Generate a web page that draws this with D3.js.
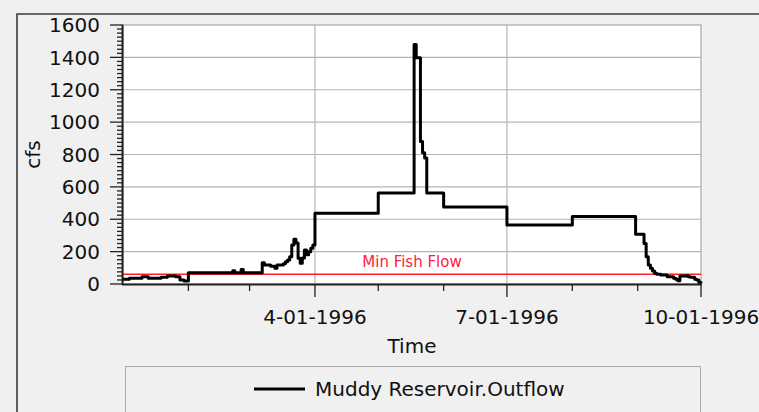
<!DOCTYPE html>
<html><head><meta charset="utf-8">
<script src="https://cdn.jsdelivr.net/npm/d3@7"></script>
<style>
html,body{margin:0;padding:0;background:#f0f0f0;}
svg{display:block;font-family:"DejaVu Sans",sans-serif;}
</style></head>
<body><svg id="c" width="759" height="412"></svg>
<script>
// ---- data ----
const dates = ["1996-01-01","1996-01-04","1996-01-10","1996-01-13","1996-01-19","1996-01-22","1996-01-26","1996-01-28","1996-01-30",
"1996-02-01","1996-02-22","1996-02-23","1996-02-26","1996-02-27",
"1996-03-07","1996-03-08","1996-03-11","1996-03-13","1996-03-14","1996-03-17","1996-03-18","1996-03-19","1996-03-20","1996-03-21",
"1996-03-22","1996-03-23","1996-03-24","1996-03-25","1996-03-26","1996-03-27","1996-03-28","1996-03-29","1996-03-30","1996-03-31",
"1996-04-01","1996-05-01","1996-05-18","1996-05-19","1996-05-21","1996-05-22","1996-05-23","1996-05-24",
"1996-06-01","1996-07-01","1996-08-01","1996-08-31",
"1996-09-04","1996-09-05","1996-09-06","1996-09-07","1996-09-08","1996-09-09","1996-09-10","1996-09-12","1996-09-15","1996-09-18",
"1996-09-19","1996-09-20","1996-09-21","1996-09-24","1996-09-25","1996-09-26","1996-09-28","1996-09-29","1996-09-30","1996-10-01"];
const outflow = [29,35,45,35,42,50,45,25,18,
70,82,70,90,70,
132,118,110,97,118,125,138,148,169,241,
277,254,159,128,161,210,180,200,221,241,
437,562,1480,1397,881,811,778,562,
475,365,417,307,
250,169,118,97,80,66,60,56,45,35,
30,20,50,51,45,41,30,25,10,4];
const minFishFlow = 60;
const yTicks = [0,200,400,600,800,1000,1200,1400,1600];
const xMajorTicks = ["1996-04-01","1996-07-01","1996-10-01"];
const xMinorTicks = ["1996-02-01","1996-03-01","1996-05-01","1996-06-01","1996-08-01","1996-09-01"];
const xTickLabels = ["4-01-1996","7-01-1996","10-01-1996"];
const seriesName = "Muddy Reservoir.Outflow";
const refLabel = "Min Fish Flow";

// ---- layout ----
const parse = s => new Date(s + "T00:00:00Z");
const L = 123, R = 701, T = 25, B = 284;
const svg = d3.select("#c");
const x = d3.scaleUtc().domain([parse("1996-01-01"), parse("1996-10-01")]).range([L, R]);
const y = d3.scaleLinear().domain([0, 1600]).range([B, T]);
const data = dates.map((d, i) => ({date: parse(d), v: outflow[i]}));

svg.append("rect").attr("width",759).attr("height",412).attr("fill","#f0f0f0");
// outer frame
svg.append("path").attr("d","M17,412 V14 H759").attr("fill","none").attr("stroke","#3a3a3a").attr("stroke-width",1.6);

// plot area
svg.append("rect").attr("x",L).attr("y",T).attr("width",R-L).attr("height",B-T)
  .attr("fill","#fff").attr("stroke","#a8a8a8").attr("stroke-width",1.2);

// grid
svg.append("g").selectAll("line").data(yTicks.filter(t => t > 0 && t < 1600)).join("line")
  .attr("x1",L).attr("x2",R).attr("y1",d=>y(d)).attr("y2",d=>y(d))
  .attr("stroke","#b4b4b4").attr("stroke-width",1.2);
svg.append("g").selectAll("line").data(xMajorTicks.slice(0,2)).join("line")
  .attr("x1",d=>x(parse(d))).attr("x2",d=>x(parse(d))).attr("y1",T).attr("y2",B)
  .attr("stroke","#b4b4b4").attr("stroke-width",1.2);

// min fish flow
svg.append("line").attr("x1",L).attr("x2",R).attr("y1",y(minFishFlow)).attr("y2",y(minFishFlow))
  .attr("stroke","#ff2020").attr("stroke-width",1.6);
svg.append("text").attr("x",(L+R)/2).attr("y",y(minFishFlow)-7).attr("text-anchor","middle")
  .attr("font-size",15).attr("fill","#ff2040").text(refLabel);

// series
const line = d3.line().x(d=>x(d.date)).y(d=>y(d.v)).curve(d3.curveStepAfter);
svg.append("path").datum(data).attr("d",line).attr("fill","none")
  .attr("stroke","#000").attr("stroke-width",3).attr("stroke-linejoin","round");

// y axis
const ga = svg.append("g");
ga.append("line").attr("x1",L-0.5).attr("x2",L-0.5).attr("y1",T).attr("y2",B+1).attr("stroke","#222").attr("stroke-width",2);
ga.selectAll(".ym").data(d3.range(0,1601,25)).join("line")
  .attr("x1",d=> d%200===0 ? L-13 : L-6).attr("x2",L).attr("y1",d=>y(d)).attr("y2",d=>y(d))
  .attr("stroke","#222").attr("stroke-width",1.3);
ga.selectAll(".yl").data(yTicks).join("text")
  .attr("x",100).attr("y",d=>y(d)).attr("dy","0.36em").attr("text-anchor","end")
  .attr("font-size",20).attr("fill","#111").text(d=>d);
svg.append("text").attr("transform",`translate(40,${(T+B)/2}) rotate(-90)`).attr("text-anchor","middle")
  .attr("font-size",20).attr("fill","#111").text("cfs");

// x axis
const gx = svg.append("g");
gx.append("line").attr("x1",L-1).attr("x2",R+1).attr("y1",B+0.5).attr("y2",B+0.5).attr("stroke","#222").attr("stroke-width",2);
gx.selectAll(".xm").data(xMinorTicks).join("line")
  .attr("x1",d=>x(parse(d))).attr("x2",d=>x(parse(d))).attr("y1",B).attr("y2",B+7)
  .attr("stroke","#222").attr("stroke-width",1.3);
gx.selectAll(".xM").data(xMajorTicks).join("line")
  .attr("x1",d=>x(parse(d))).attr("x2",d=>x(parse(d))).attr("y1",B).attr("y2",B+13)
  .attr("stroke","#222").attr("stroke-width",1.3);
gx.selectAll(".xl").data(xMajorTicks).join("text")
  .attr("x",d=>x(parse(d))).attr("y",324).attr("text-anchor","middle")
  .attr("font-size",20).attr("fill","#111").text((d,i)=>xTickLabels[i]);
svg.append("text").attr("x",(L+R)/2).attr("y",353).attr("text-anchor","middle")
  .attr("font-size",20).attr("fill","#111").text("Time");

// legend
svg.append("rect").attr("x",125.5).attr("y",366.5).attr("width",575).attr("height",60)
  .attr("fill","#f0f0f0").attr("stroke","#a8a8a8").attr("stroke-width",1);
svg.append("line").attr("x1",254).attr("x2",305).attr("y1",389).attr("y2",389).attr("stroke","#000").attr("stroke-width",3);
svg.append("text").attr("x",315).attr("y",389).attr("dy","0.36em").attr("font-size",20).attr("fill","#111").text(seriesName);
</script></body></html>
